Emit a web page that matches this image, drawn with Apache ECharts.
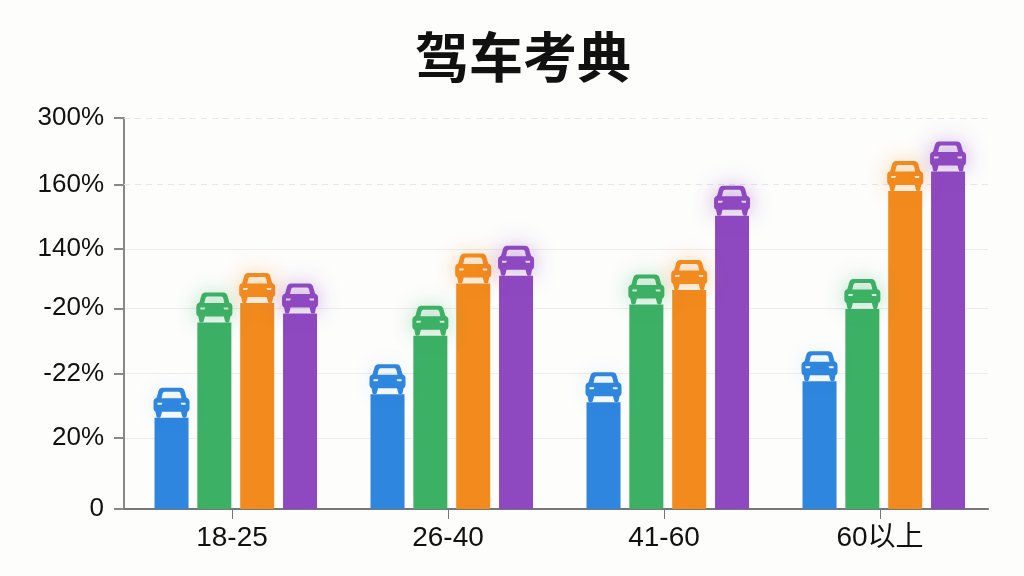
<!DOCTYPE html>
<html><head><meta charset="utf-8">
<script src="https://cdn.jsdelivr.net/npm/echarts@6/dist/echarts.min.js"></script>
<style>html,body{margin:0;padding:0;background:#fdfdfc}#c{width:1024px;height:576px}</style>
</head><body><div id="c"></div>
<script>
const categories = ['18-25','26-40','41-60','60以上'];
const blue   = [70, 88, 82, 98];
const green  = [143, 133, 157, 153.5];
const orange = [158, 173, 168, 244];
const purple = [150, 179, 225, 259];
const tickValues = [0, 54.5, 104, 154, 199.5, 249, 300];
const tickLabels = ['0','20%','-22%','-20%','140%','160%','300%'];
const dashedTicks = [249, 300];
const titleText = '驾车考典';

const carPath = 'path://M9 0 L27 0 Q30 0 31 3 L33 10 Q36 11 36 14 L36 21 Q36 23 34 24 L33 29 Q33 30 31.5 30 L30 30 Q29 30 28.5 28 L27.5 24 L8.5 24 L7.5 28 Q7 30 6 30 L4.5 30 Q3 30 3 29 L2 24 Q0 23 0 21 L0 14 Q0 11 3 10 L5 3 Q6 0 9 0 Z M11 4 Q9.5 4 9 6 L8 10.5 L28 10.5 L27 6 Q26.5 4 25 4 Z M4 15 L4 17 L8 17 L9 15 Z M27 15 L28 17 L32 17 L32 15 Z';

const palette = [
  {data: blue, color: '#2e86de', glow: 'rgba(46,134,222,0.12)'},
  {data: green, color: '#3cb064', glow: 'rgba(60,176,100,0.45)'},
  {data: orange, color: '#f28a1e', glow: 'rgba(242,138,30,0.45)'},
  {data: purple, color: '#8e48c0', glow: 'rgba(142,72,192,0.5)'}
];
const series = [
  {type: 'bar', data: [], barWidth: 6, barGap: '26%'},
  {type: 'pictorialBar', data: [], barWidth: 6, barGap: '26%'}
];
palette.forEach((p, i) => {
  const bar = {type: 'bar', data: p.data, barWidth: 34, barGap: '26%',
    itemStyle: {color: p.color}, z: 3};
  if (i === 0) {
    bar.markLine = {silent: true, symbol: 'none', z: 1, label: {show: false},
      lineStyle: {color: '#e6e6e6', type: [6, 5], width: 1},
      data: dashedTicks.map(v => ({yAxis: v}))};
  }
  series.push(bar);
  series.push({type: 'pictorialBar', data: p.data, barWidth: 34, barGap: '26%',
    symbol: carPath, symbolSize: [36, 30], symbolPosition: 'end', symbolOffset: [0, '-100%'],
    itemStyle: {color: p.color, shadowBlur: 20, shadowColor: p.glow}, z: 4});
});

const chart = echarts.init(document.getElementById('c'));
chart.setOption({
  animation: false,
  backgroundColor: '#fdfdfc',
  title: {text: titleText, left: 518, top: 25, textAlign: 'center',
    textStyle: {fontFamily: '"Noto Sans CJK SC"', fontSize: 54, fontWeight: 'bold', color: '#111'}},
  grid: {left: 124, right: 36, top: 118, bottom: 67},
  xAxis: {type: 'category', data: categories,
    axisLine: {lineStyle: {color: '#777', width: 2}},
    axisTick: {show: true, alignWithLabel: true, length: 10, lineStyle: {color: '#777', width: 1}},
    axisLabel: {fontFamily: '"Liberation Sans","Noto Sans CJK SC"', fontSize: 28, color: '#111', margin: 15}},
  yAxis: {type: 'value', min: 0, max: 300,
    axisLine: {show: true, lineStyle: {color: '#888', width: 2}},
    axisTick: {show: true, length: 10, customValues: tickValues, lineStyle: {color: '#888', width: 2}},
    axisLabel: {customValues: tickValues, margin: 20, fontFamily: '"Liberation Sans"', fontSize: 26, color: '#111',
      formatter: v => tickLabels[tickValues.indexOf(v)]},
    splitLine: {show: true, lineStyle: {width: 1, type: 'solid',
      color: tickValues.map(v => dashedTicks.includes(v) ? 'transparent' : '#ececec')}}},
  series
});
</script></body></html>
